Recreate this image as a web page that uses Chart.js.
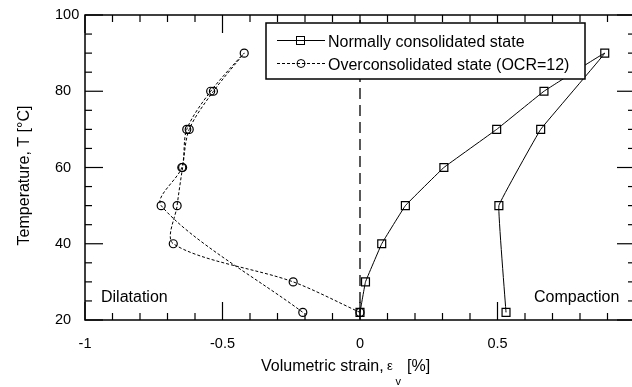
<!DOCTYPE html>
<html>
<head>
<meta charset="utf-8">
<script src="https://cdn.jsdelivr.net/npm/chart.js@4/dist/chart.umd.min.js"></script>
<style>
html,body{margin:0;padding:0;background:#fff;overflow:hidden;}
#wrap{width:650px;height:387px;}
</style>
</head>
<body>
<div id="wrap"><canvas id="c" width="650" height="387"></canvas></div>
<script>
// ---- data ----
const ncStrain = [0, 0.02, 0.079, 0.165, 0.305, 0.497, 0.669, 0.89, 0.657, 0.505, 0.531];
const ncTemp   = [22, 30, 40, 50, 60, 70, 80, 90, 70, 50, 22];
const ocStrain = [0, -0.243, -0.679, -0.665, -0.645, -0.621, -0.533, -0.421, -0.543, -0.630, -0.648, -0.723, -0.208];
const ocTemp   = [22, 30, 40, 50, 60, 70, 80, 90, 80, 70, 60, 50, 22];
const zeroStrain = [0, 0];
const zeroTemp   = [20, 100];
const xTickLabels = ['-1', '-0.5', '0', '0.5'];
const yTickLabels = ['20', '40', '60', '80', '100'];
const seriesNames = ['Normally consolidated state', 'Overconsolidated state (OCR=12)'];

const FONT = "'Liberation Sans', Arial, sans-serif";
const pts = (xs, ys) => xs.map((v, i) => ({x: v, y: ys[i]}));

const decor = {
  id: 'decor',
  afterDatasetsDraw(chart) {
    const {ctx, chartArea: a, scales: {x, y}} = chart;
    ctx.save();
    ctx.strokeStyle = '#000';
    ctx.lineWidth = 1.5;
    const seg = (x1, y1, x2, y2) => { ctx.beginPath(); ctx.moveTo(x1, y1); ctx.lineTo(x2, y2); ctx.stroke(); };
    // frame
    ctx.strokeRect(a.left, a.top, a.right - a.left, a.bottom - a.top);
    // x ticks (inward, top & bottom)
    ctx.lineWidth = 1.2;
    x.ticks.forEach(t => {
      const px = x.getPixelForValue(t.value);
      const major = Math.abs(t.value * 2 - Math.round(t.value * 2)) < 1e-6;
      const L = major ? 18 : 7;
      seg(px, a.bottom, px, a.bottom - L);
      seg(px, a.top, px, a.top + L);
    });
    y.ticks.forEach(t => {
      const py = y.getPixelForValue(t.value);
      const major = t.value % 20 === 0;
      const L = major ? 18 : 7;
      seg(a.left, py, a.left + L, py);
      seg(a.right, py, a.right - L, py);
    });
    // legend
    const lx = 266, ly = 23, lw = 319, lh = 56;
    ctx.fillStyle = '#fff';
    ctx.fillRect(lx, ly, lw, lh);
    ctx.lineWidth = 1.5;
    ctx.strokeRect(lx, ly, lw, lh);
    ctx.lineWidth = 1;
    // row 1
    seg(277, 40.5, 325, 40.5);
    ctx.strokeRect(296.5, 36.5, 8, 8);
    // row 2
    ctx.setLineDash([3, 2]);
    seg(277, 63.5, 325, 63.5);
    ctx.setLineDash([]);
    ctx.beginPath(); ctx.arc(301, 63.5, 4, 0, Math.PI * 2); ctx.stroke();
    ctx.fillStyle = '#000';
    ctx.font = '16px ' + FONT;
    ctx.textAlign = 'left';
    ctx.textBaseline = 'alphabetic';
    ctx.fillText(seriesNames[0], 328, 46.5);
    ctx.fillText(seriesNames[1], 328, 69.5);
    // annotations
    ctx.fillText('Dilatation', 101, 302);
    ctx.fillText('Compaction', 534, 302);
    // x title
    ctx.fillText('Volumetric strain,', 261, 371);
    ctx.font = '13px ' + FONT;
    ctx.fillText('\u03b5', 387, 370);
    ctx.font = '11px ' + FONT;
    ctx.fillText('v', 395.5, 385);
    ctx.font = '16px ' + FONT;
    ctx.fillText('[%]', 407, 371);
    // y title
    ctx.save();
    ctx.translate(29, 175.5);
    ctx.rotate(-Math.PI / 2);
    ctx.textAlign = 'center';
    ctx.fillText('Temperature, T [\u00b0C]', 0, 0);
    ctx.restore();
    ctx.restore();
  }
};

new Chart(document.getElementById('c'), {
  type: 'scatter',
  data: {
    datasets: [
      {
        label: 'zero', data: pts(zeroStrain, zeroTemp), showLine: true,
        borderColor: '#000', borderWidth: 1.3, borderDash: [11, 6], pointRadius: 0
      },
      {
        label: seriesNames[0], data: pts(ncStrain, ncTemp), showLine: true,
        borderColor: '#000', borderWidth: 1, tension: 0.05,
        pointStyle: 'rect', pointRadius: 5.6, pointBorderWidth: 1.2,
        pointBorderColor: '#000', pointBackgroundColor: 'rgba(0,0,0,0)'
      },
      {
        label: seriesNames[1], data: pts(ocStrain, ocTemp), showLine: true,
        borderColor: '#000', borderWidth: 1, borderDash: [3, 2], tension: 0.3,
        pointStyle: 'circle', pointRadius: 4, pointBorderWidth: 1.2,
        pointBorderColor: '#000', pointBackgroundColor: 'rgba(0,0,0,0)'
      }
    ]
  },
  options: {
    responsive: false,
    animation: false,
    events: [],
    layout: {padding: {left: 55, top: 15, right: 0, bottom: 0}},
    plugins: {legend: {display: false}, tooltip: {enabled: false}},
    scales: {
      x: {
        type: 'linear', min: -1, max: 1,
        grid: {display: false, drawTicks: false},
        border: {display: false},
        afterFit(s) { s.height = 67; },
        ticks: {
          stepSize: 0.1, autoSkip: false, maxRotation: 0, padding: 15,
          color: '#000', font: {family: FONT, size: 14.5},
          callback: v => { const s = String(Math.round(v * 10) / 10); return xTickLabels.includes(s) ? s : ''; }
        }
      },
      y: {
        type: 'linear', min: 20, max: 100,
        grid: {display: false, drawTicks: false},
        border: {display: false},
        afterFit(s) { s.width = 30; },
        ticks: {
          stepSize: 5, autoSkip: false, crossAlign: 'far', padding: 0,
          color: '#000', font: {family: FONT, size: 14.5},
          callback: v => { const s = String(v); return yTickLabels.includes(s) ? s : ''; }
        }
      }
    }
  },
  plugins: [decor]
});
</script>
</body>
</html>
